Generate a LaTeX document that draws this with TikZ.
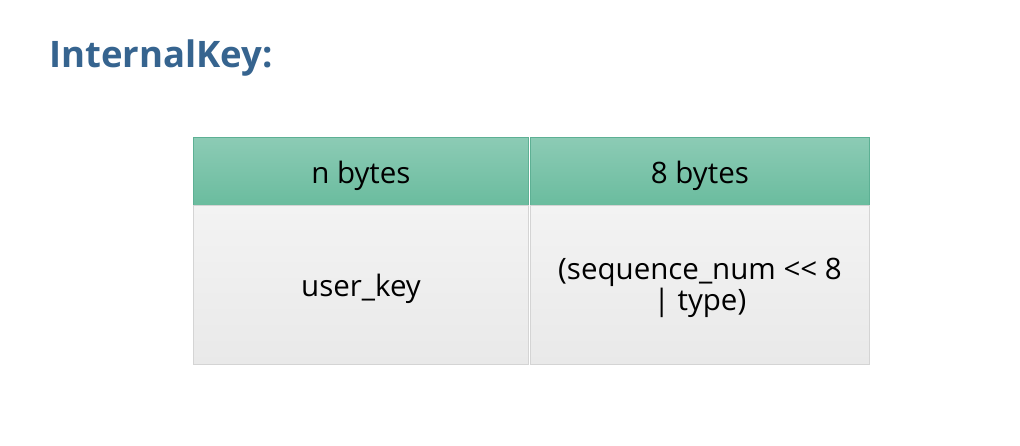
\documentclass[tikz,border=0pt]{standalone}
\usepackage{fontspec}
\setmainfont{Open Sans}
\usetikzlibrary{positioning}
\definecolor{titleblue}{HTML}{36648F}
\definecolor{hdtop}{HTML}{8CCBB5}
\definecolor{hdbot}{HTML}{6ABC9E}
\definecolor{hdline}{HTML}{5DB094}
\definecolor{celltop}{HTML}{F3F3F3}
\definecolor{cellbot}{HTML}{E9E9E9}
\definecolor{celledge}{HTML}{D4D4D4}
\tikzset{
  x=1pt, y=-1pt,
  hdcell/.style={draw=hdline, line width=0.8pt, top color=hdtop, bottom color=hdbot, minimum height=68pt, inner sep=0pt, anchor=north west},
  bodycell/.style={draw=celledge, line width=1pt, top color=celltop, bottom color=cellbot, minimum height=159pt, inner sep=0pt, anchor=north west},
  celltext/.style={inner sep=0pt, align=center, font=\fontsize{29.5}{31}\selectfont},
  titletext/.style={anchor=west, text=titleblue, font=\bfseries\fontsize{36.5}{40}\selectfont, inner sep=0pt}
}
\begin{document}
\begin{tikzpicture}
\useasboundingbox[fill=white] (0,0) rectangle (1020,446);
\node[titletext] (title) at (49,58) {InternalKey:};
\node[hdcell, minimum width=335pt] (h1) at (193,137) {};
\node[hdcell, minimum width=339pt] (h2) at (530,137) {};
\node[bodycell, minimum width=335pt] (b1) at (193,205) {};
\node[bodycell, minimum width=339pt] (b2) at (530,205) {};
\node[celltext] (t1) at ([yshift=-4pt]h1.center) {n bytes};
\node[celltext] (t2) at ([yshift=-4pt]h2.center) {8 bytes};
\node[celltext] (t3) at ([yshift=-4pt]b1.center) {user\_key};
\node[celltext] (t4) at ([yshift=-3pt]b2.center) {(sequence\_num {<}{<} 8\\| type)};
\end{tikzpicture}
\end{document}
